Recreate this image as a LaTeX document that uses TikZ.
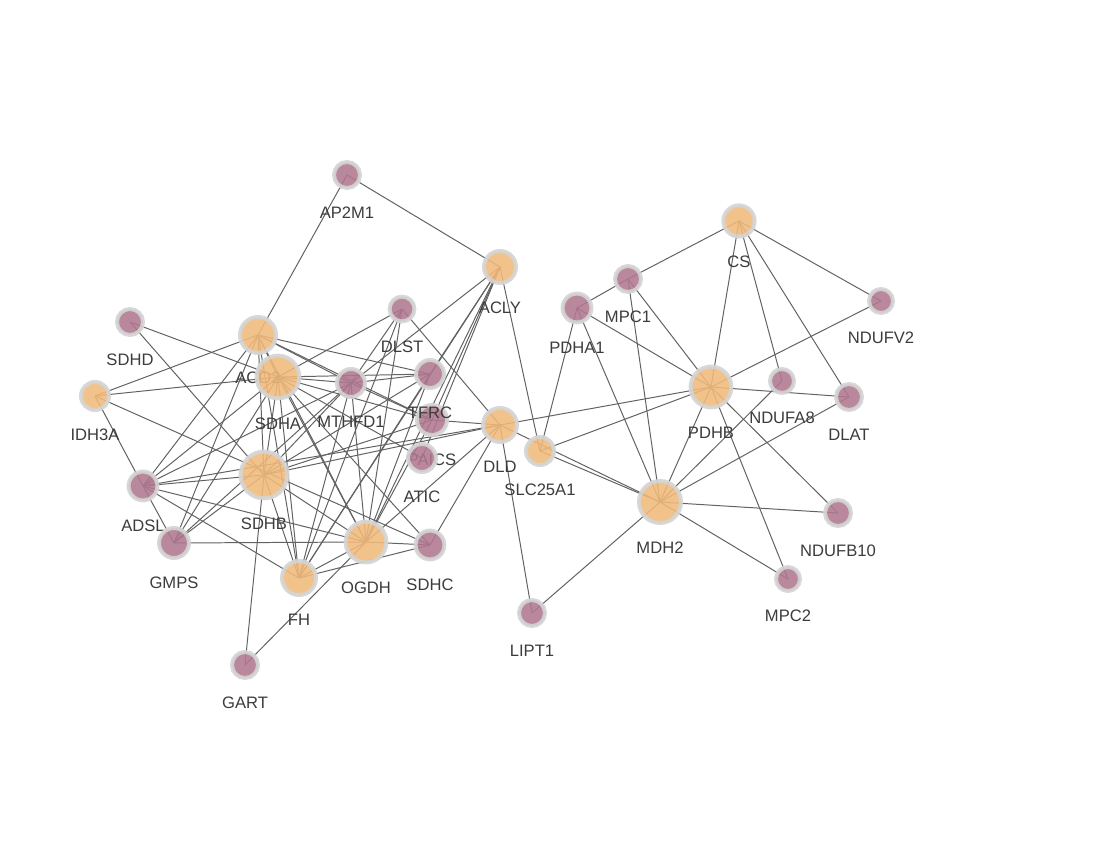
\documentclass[tikz,border=0pt]{standalone}
\usepackage{fontspec}
\setmainfont{Liberation Sans}
\definecolor{hubfill}{HTML}{F1BA7C}
\definecolor{leaffill}{HTML}{B0788F}
\definecolor{halo}{HTML}{D4D4D4}
\definecolor{linkgray}{HTML}{626262}
\definecolor{labelgray}{HTML}{3C3C3C}
\pgfdeclarelayer{background}
\pgfsetlayers{background,main}
\tikzset{
  gene/.style={circle, draw=halo, line width=0.1cm, inner sep=0pt, fill opacity=0.88, draw opacity=0.9},
  hub/.style={gene, fill=hubfill, minimum size=#1},
  leaf/.style={gene, fill=leaffill, minimum size=#1},
  link/.style={draw=linkgray, line width=0.7pt},
  every label/.style={font=\fontsize{11.8}{14}\selectfont, text=labelgray, inner sep=0pt, outer sep=0pt,
    text opacity=1, fill opacity=1, draw=none, fill=none, line width=0.4pt},
  label distance=0.43cm
}

\begin{document}
\begin{tikzpicture}[x=0.025cm, y=-0.025cm]
        \useasboundingbox (0,0) rectangle (1106,848);

        % genes
        \node[leaf=0.65cm, label=below:AP2M1] (ap2m1) at (347,175) {};
        \node[hub=0.80cm, label=below:ACLY] (acly) at (500,267) {};
        \node[hub=0.78cm, label=below:CS] (cs) at (739,221) {};
        \node[leaf=0.65cm, label=below:MPC1] (mpc1) at (628,279) {};
        \node[leaf=0.72cm, label=below:PDHA1] (pdha1) at (577,308) {};
        \node[leaf=0.60cm, label=below:NDUFV2] (ndufv2) at (881,301) {};
        \node[leaf=0.65cm, label=below:SDHD] (sdhd) at (130,322) {};
        \node[hub=0.70cm, label=below:IDH3A] (idh3a) at (95,396) {};
        \node[hub=0.90cm, label=below:ACO2] (aco2) at (258,335) {};
        \node[hub=1.07cm, label=below:SDHA] (sdha) at (278,377) {};
        \node[leaf=0.62cm, label=below:DLST] (dlst) at (402,309) {};
        \node[leaf=0.70cm, label=below:MTHFD1] (mthfd1) at (351,383) {};
        \node[leaf=0.75cm, label=below:PAICS] (paics) at (432,420) {};
        \node[leaf=0.70cm, label=below:TFRC] (tfrc) at (430,374) {};
        \node[leaf=0.70cm, label=below:ATIC] (atic) at (422,458) {};
        \node[hub=0.85cm, label=below:DLD] (dld) at (500,425) {};
        \node[hub=0.70cm, label=below:SLC25A1] (slc25a1) at (540,451) {};
        \node[hub=1.02cm, label=below:PDHB] (pdhb) at (711,387) {};
        \node[leaf=0.60cm, label=below:NDUFA8] (ndufa8) at (782,381) {};
        \node[leaf=0.65cm, label=below:DLAT] (dlat) at (849,397) {};
        \node[hub=1.17cm, label=below:SDHB] (sdhb) at (264,475) {};
        \node[leaf=0.72cm, label=below:ADSL] (adsl) at (143,486) {};
        \node[leaf=0.75cm, label=below:GMPS] (gmps) at (174,543) {};
        \node[hub=0.85cm, label=below:FH] (fh) at (299,578) {};
        \node[hub=1.02cm, label=below:OGDH] (ogdh) at (366,542) {};
        \node[leaf=0.72cm, label=below:SDHC] (sdhc) at (430,545) {};
        \node[hub=1.05cm, label=below:MDH2] (mdh2) at (660,502) {};
        \node[leaf=0.65cm, label=below:NDUFB10] (ndufb10) at (838,513) {};
        \node[leaf=0.60cm, label=below:MPC2] (mpc2) at (788,579) {};
        \node[leaf=0.65cm, label=below:LIPT1] (lipt1) at (532,613) {};
        \node[leaf=0.65cm, label=below:GART] (gart) at (245,665) {};

        \begin{pgfonlayer}{background}
        \fill[white] (0,0) rectangle (1106,848);
        % links, right part
        \draw[link] (mpc1.center) -- (cs.center);
        \draw[link] (pdhb.center) -- (cs.center);
        \draw[link] (ndufa8.center) -- (cs.center);
        \draw[link] (dlat.center) -- (cs.center);
        \draw[link] (ndufv2.center) -- (cs.center);
        \draw[link] (pdha1.center) -- (mpc1.center);
        \draw[link] (pdhb.center) -- (mpc1.center);
        \draw[link] (mdh2.center) -- (mpc1.center);
        \draw[link] (pdhb.center) -- (pdha1.center);
        \draw[link] (mdh2.center) -- (pdha1.center);
        \draw[link] (slc25a1.center) -- (pdha1.center);
        \draw[link] (ndufv2.center) -- (pdhb.center);
        \draw[link] (dlat.center) -- (pdhb.center);
        \draw[link] (mdh2.center) -- (pdhb.center);
        \draw[link] (ndufb10.center) -- (pdhb.center);
        \draw[link] (mpc2.center) -- (pdhb.center);
        \draw[link] (dld.center) -- (pdhb.center);
        \draw[link] (slc25a1.center) -- (pdhb.center);
        \draw[link] (ndufa8.center) -- (mdh2.center);
        \draw[link] (dlat.center) -- (mdh2.center);
        \draw[link] (ndufb10.center) -- (mdh2.center);
        \draw[link] (mpc2.center) -- (mdh2.center);
        \draw[link] (lipt1.center) -- (mdh2.center);
        \draw[link] (slc25a1.center) -- (mdh2.center);
        \draw[link] (dld.center) -- (mdh2.center);
        \draw[link] (slc25a1.center) -- (acly.center);
        \draw[link] (lipt1.center) -- (dld.center);
        % links, middle
        \draw[link] (ap2m1.center) -- (acly.center);
        \draw[link] (aco2.center) -- (ap2m1.center);
        \draw[link] (dlst.center) -- (dld.center);
        \draw[link] (ogdh.center) -- (dld.center);
        \draw[link] (sdhc.center) -- (dld.center);
        \draw[link] (sdhb.center) -- (dld.center);
        \draw[link] (paics.center) -- (dld.center);
        \draw[link] (adsl.center) -- (dld.center);
        \draw[link] (mthfd1.center) -- (acly.center);
        \draw[link] (tfrc.center) -- (acly.center);
        \draw[link] (paics.center) -- (acly.center);
        \draw[link] (atic.center) -- (acly.center);
        \draw[link] (ogdh.center) -- (acly.center);
        \draw[link] (fh.center) -- (acly.center);
        % links, left part
        \draw[link] (sdhd.center) -- (sdha.center);
        \draw[link] (sdhd.center) -- (sdhb.center);
        \draw[link] (idh3a.center) -- (aco2.center);
        \draw[link] (idh3a.center) -- (sdha.center);
        \draw[link] (idh3a.center) -- (sdhc.center);
        \draw[link] (idh3a.center) -- (adsl.center);
        \draw[link] (aco2.center) -- (sdha.center);
        \draw[link] (aco2.center) -- (adsl.center);
        \draw[link] (aco2.center) -- (gmps.center);
        \draw[link] (aco2.center) -- (tfrc.center);
        \draw[link] (aco2.center) -- (paics.center);
        \draw[link] (aco2.center) -- (ogdh.center);
        \draw[link] (aco2.center) -- (sdhb.center);
        \draw[link] (aco2.center) -- (fh.center);
        \draw[link] (aco2.center) -- (mthfd1.center);
        \draw[link] (sdha.center) -- (mthfd1.center);
        \draw[link] (sdha.center) -- (tfrc.center);
        \draw[link] (sdha.center) -- (paics.center);
        \draw[link] (sdha.center) -- (atic.center);
        \draw[link] (sdha.center) -- (sdhb.center);
        \draw[link] (sdha.center) -- (fh.center);
        \draw[link] (sdha.center) -- (ogdh.center);
        \draw[link] (sdha.center) -- (sdhc.center);
        \draw[link] (sdha.center) -- (gmps.center);
        \draw[link] (sdha.center) -- (adsl.center);
        \draw[link] (sdha.center) -- (dlst.center);
        \draw[link] (sdhb.center) -- (adsl.center);
        \draw[link] (sdhb.center) -- (gmps.center);
        \draw[link] (sdhb.center) -- (fh.center);
        \draw[link] (sdhb.center) -- (ogdh.center);
        \draw[link] (sdhb.center) -- (tfrc.center);
        \draw[link] (sdhb.center) -- (paics.center);
        \draw[link] (sdhb.center) -- (gart.center);
        \draw[link] (sdhb.center) -- (mthfd1.center);
        \draw[link] (adsl.center) -- (gmps.center);
        \draw[link] (adsl.center) -- (fh.center);
        \draw[link] (adsl.center) -- (ogdh.center);
        \draw[link] (adsl.center) -- (mthfd1.center);
        \draw[link] (gmps.center) -- (ogdh.center);
        \draw[link] (gmps.center) -- (mthfd1.center);
        \draw[link] (fh.center) -- (ogdh.center);
        \draw[link] (fh.center) -- (sdhc.center);
        \draw[link] (fh.center) -- (mthfd1.center);
        \draw[link] (fh.center) -- (tfrc.center);
        \draw[link] (fh.center) -- (dlst.center);
        \draw[link] (ogdh.center) -- (gart.center);
        \draw[link] (ogdh.center) -- (dlst.center);
        \draw[link] (ogdh.center) -- (tfrc.center);
        \draw[link] (ogdh.center) -- (paics.center);
        \draw[link] (ogdh.center) -- (mthfd1.center);
        \draw[link] (ogdh.center) -- (sdhc.center);
        \draw[link] (mthfd1.center) -- (tfrc.center);
        \draw[link] (mthfd1.center) -- (paics.center);
        \draw[link] (mthfd1.center) -- (dlst.center);
        \end{pgfonlayer}
    \end{tikzpicture}
\end{document}
